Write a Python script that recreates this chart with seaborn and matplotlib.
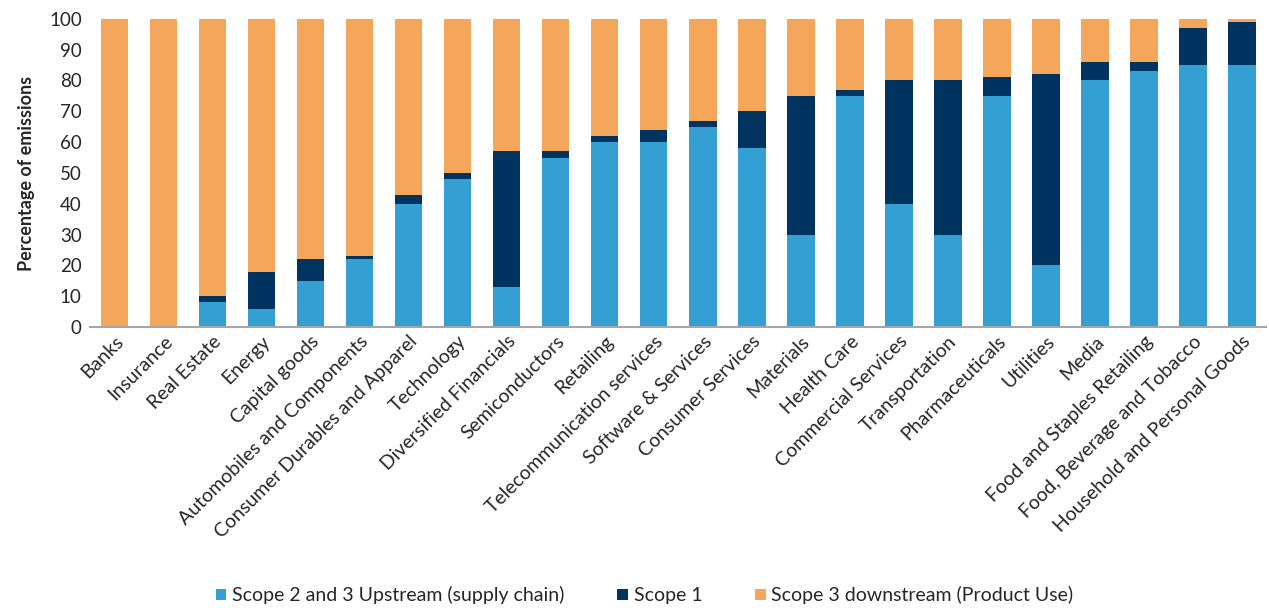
import numpy as np
import pandas as pd
import matplotlib
matplotlib.use("Agg")
import matplotlib.pyplot as plt
import seaborn as sns

# Data
sectors = ["Banks", "Insurance", "Real Estate", "Energy", "Capital goods",
           "Automobiles and Components", "Consumer Durables and Apparel",
           "Technology", "Diversified Financials", "Semiconductors", "Retailing",
           "Telecommunication services", "Software & Services", "Consumer Services",
           "Materials", "Health Care", "Commercial Services", "Transportation",
           "Pharmaceuticals", "Utilities", "Media", "Food and Staples Retailing",
           "Food, Beverage and Tobacco", "Household and Personal Goods"]
upstream = [0, 0, 8, 6, 15, 22, 40, 48, 13, 55, 60, 60, 65, 58, 30, 75, 40, 30,
            75, 20, 80, 83, 85, 85]
scope1 = [0, 0, 2, 12, 7, 1, 3, 2, 44, 2, 2, 4, 2, 12, 45, 2, 40, 50,
          6, 62, 6, 3, 12, 14]
downstream = [100 - u - s for u, s in zip(upstream, scope1)]

df = pd.DataFrame({"sector": sectors, "upstream": upstream,
                   "scope1": scope1, "downstream": downstream})
# cumulative heights for stacking
df["upto_scope1"] = df["upstream"] + df["scope1"]
df["total"] = df["upto_scope1"] + df["downstream"]

c_up = "#349FD3"
c_s1 = "#00335F"
c_down = "#F4A65B"

sns.set_theme(style="white")
plt.rcParams["font.family"] = ["Lato", "DejaVu Sans"]

fig = plt.figure(figsize=(12.69, 6.08), dpi=100)
ax = fig.add_axes([0.071, 0.462, 0.927, 0.507])

order = list(df["sector"])
bar_kw = dict(order=order, width=0.56, ax=ax, saturation=1, linewidth=0)
sns.barplot(data=df, x="sector", y="total", color=c_down,
            label="Scope 3 downstream (Product Use)", **bar_kw)
sns.barplot(data=df, x="sector", y="upto_scope1", color=c_s1,
            label="Scope 1", **bar_kw)
sns.barplot(data=df, x="sector", y="upstream", color=c_up,
            label="Scope 2 and 3 Upstream (supply chain)", **bar_kw)

ax.set_ylim(0, 100)
ax.set_xlim(-0.5, len(order) - 0.5)
ax.set_yticks(range(0, 101, 10))
ax.tick_params(axis="y", labelsize=13.5, length=0, pad=6)
ax.tick_params(axis="x", labelsize=14, length=0, pad=4)
plt.setp(ax.get_xticklabels(), rotation=45, ha="right", rotation_mode="anchor")
ax.set_xlabel("")
ax.set_ylabel("Percentage of emissions", fontsize=13, fontweight="bold", labelpad=10)

for side in ["top", "right", "left"]:
    ax.spines[side].set_visible(False)
ax.spines["bottom"].set_color("#A6A6A6")
ax.spines["bottom"].set_linewidth(1.5)

handles, labels = ax.get_legend_handles_labels()
ax.get_legend().remove()
handles, labels = handles[::-1], labels[::-1]
fig.legend(handles, labels, loc="center", bbox_to_anchor=(0.508, 0.021), ncol=3,
           frameon=False, fontsize=14, handlelength=0.55, handleheight=0.55,
           handletextpad=0.3, columnspacing=2.7)

fig.savefig("out.png", dpi=100)
